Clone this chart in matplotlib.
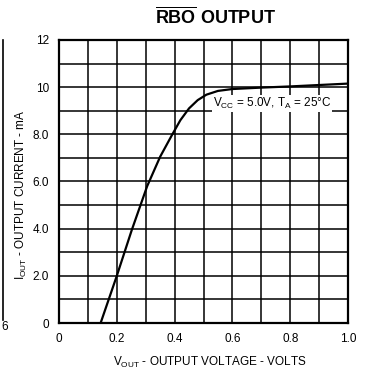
"""
RBO output characteristic: output current vs output voltage (datasheet style).
"""

import matplotlib
matplotlib.use("Agg")
import matplotlib.pyplot as plt
from matplotlib.lines import Line2D

plt.rcParams["font.family"] = ["Liberation Sans", "DejaVu Sans"]
plt.rcParams["mathtext.fontset"] = "custom"
plt.rcParams["mathtext.rm"] = "Liberation Sans"
plt.rcParams["mathtext.bf"] = "Liberation Sans:bold"

# Curve
v_out = [0.144, 0.2, 0.252, 0.305, 0.35, 0.39, 0.42, 0.45, 0.48, 0.51, 0.55, 0.60, 0.70, 0.80, 0.90, 1.0]
i_out = [0.0, 2.0, 3.95, 5.8, 7.05, 7.95, 8.6, 9.1, 9.45, 9.68, 9.84, 9.92, 9.98, 10.03, 10.09, 10.15]

x_ticks = [0, 0.2, 0.4, 0.6, 0.8, 1.0]
x_labels = ["0", "0.2", "0.4", "0.6", "0.8", "1.0"]
y_ticks = [0, 2, 4, 6, 8, 10, 12]
y_labels = ["0", "2.0", "4.0", "6.0", "8.0", "10", "12"]
x_grid = [i / 10 for i in range(11)]
y_grid = list(range(13))

fig = plt.figure(figsize=(3.7, 3.7), dpi=100)
ax = fig.add_axes([0.1595, 0.127, 0.781, 0.765])

for x in x_grid:
    ax.axvline(x, color="black", linewidth=1.1, zorder=1)
for y in y_grid:
    ax.axhline(y, color="black", linewidth=1.1, zorder=1)

ax.plot(v_out, i_out, color="black", linewidth=1.6, zorder=3)

ax.set_xlim(0, 1.0)
ax.set_ylim(0, 12)
ax.set_xticks(x_ticks)
ax.set_xticklabels(x_labels)
ax.set_yticks(y_ticks)
ax.set_yticklabels(y_labels)
ax.tick_params(length=0, labelsize=8.5, pad=7)
for s in ax.spines.values():
    s.set_linewidth(1.6)

ax.set_xlabel(r"V$_{\mathrm{OUT}}$ - OUTPUT VOLTAGE - VOLTS", fontsize=8.5)
ax.set_ylabel(r"I$_{\mathrm{OUT}}$ - OUTPUT CURRENT - mA", fontsize=8.5)
ax.xaxis.set_label_coords(0.522, -0.112)
ax.yaxis.set_label_coords(-0.105, 0.452)

ax.text(0.737, 9.3, r"V$_{\mathrm{CC}}$ = 5.0V, T$_{\mathrm{A}}$ = 25°C",
        fontsize=8.5, ha="center", va="center", zorder=4,
        bbox=dict(facecolor="white", edgecolor="none", pad=0.8))

fig.text(215 / 370, 1 - 17 / 370, r"$\overline{\mathbf{RBO}}$ OUTPUT",
         fontsize=13, fontweight="bold", ha="center", va="center")

# fragment of the neighbouring chart at the left edge
fig.add_artist(Line2D([2.5 / 370, 2.5 / 370], [1 - 40 / 370, 1 - 320 / 370],
                      color="black", linewidth=1.2))
fig.text(5 / 370, 1 - 327 / 370, "6", fontsize=8.5, ha="center", va="center")

fig.savefig("out.png", dpi=100)
plt.close()
